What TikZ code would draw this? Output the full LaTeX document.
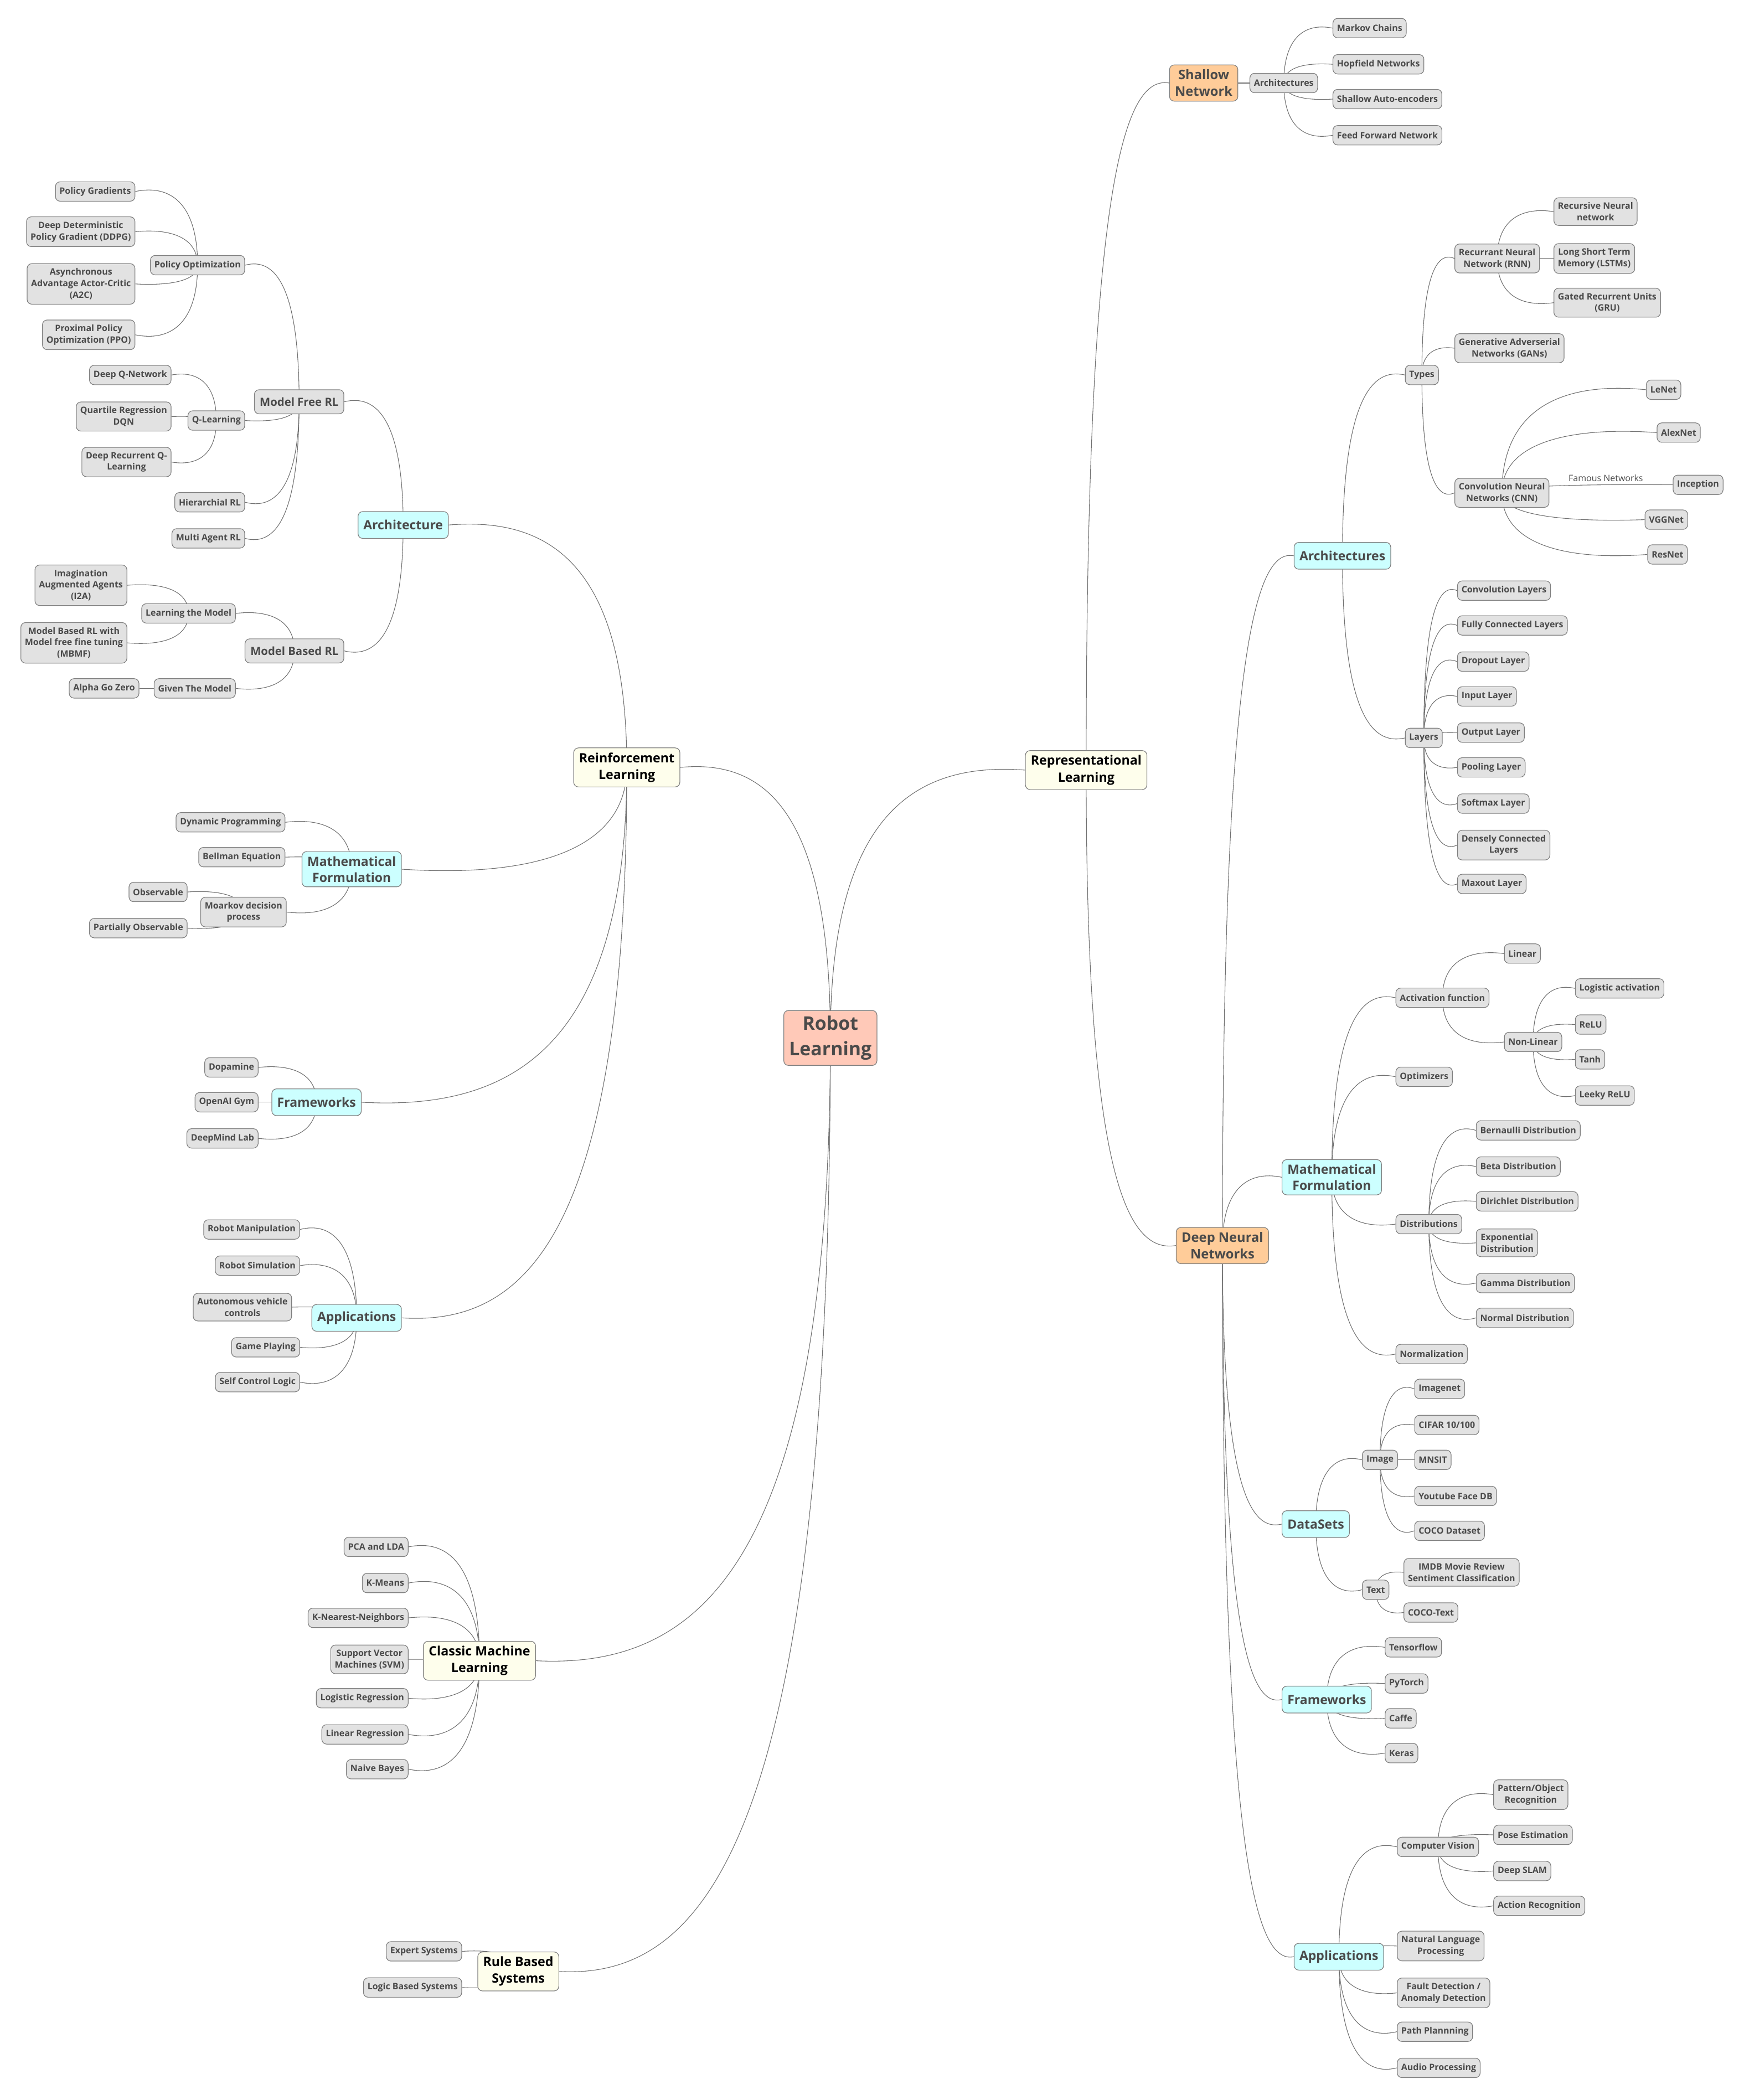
\documentclass[tikz,border=0pt]{standalone}
\usepackage{fontspec}
\setmainfont{Open Sans}
\usetikzlibrary{calc,backgrounds}
\definecolor{grayf}{HTML}{E2E2E2}
\definecolor{bordc}{HTML}{808080}
\definecolor{txtc}{HTML}{4A4A4A}
\definecolor{cyanf}{HTML}{CCFFFF}
\definecolor{yelf}{HTML}{FEFEEC}
\definecolor{oraf}{HTML}{FFCC99}
\definecolor{rootf}{HTML}{FFC9B8}
\definecolor{edgec}{HTML}{707070}
\tikzset{
 base/.style={rounded corners=3.5pt, draw=bordc, line width=0.5pt, align=center, inner xsep=3pt, inner ysep=3.5pt, text=txtc},
 leaf/.style={base, fill=grayf, font=\bfseries\fontsize{6.6}{8.6}\selectfont, minimum height=14.5pt},
 mid/.style={base, fill=grayf, font=\bfseries\fontsize{8.4}{10.5}\selectfont, minimum height=18pt, inner xsep=4pt},
 cyanbox/.style={base, fill=cyanf, font=\bfseries\fontsize{9.5}{12}\selectfont, minimum height=20pt, inner xsep=4pt},
 yelbox/.style={base, fill=yelf, text=black, font=\bfseries\fontsize{9.6}{12.5}\selectfont, minimum height=20pt, inner xsep=4pt},
 orabox/.style={base, fill=oraf, font=\bfseries\fontsize{9.8}{12.5}\selectfont, inner xsep=4pt},
 rootbox/.style={base, fill=rootf, font=\bfseries\fontsize{14}{19}\selectfont, inner xsep=4pt, inner ysep=4pt},
 edge/.style={draw=edgec, line width=0.45pt},
 elabel/.style={font=\fontsize{6.6}{8}\selectfont, text=txtc, inner sep=1pt}
}
\newcommand\lk[2]{\draw[edge] let \p1=(#1.center), \p2=(#2) in (\p1) .. controls (\x1,{\y1+0.85*(\y2-\y1)}) and ({\x1+0.45*(\x2-\x1)},{\y2+sign(\y2-\y1)*min(0.1*abs(\y2-\y1),6pt)}) .. (\p2);}
\newcommand\lkL[2]{\lk{#1}{#2.east}}
\newcommand\lkR[2]{\lk{#1}{#2.west}}
\begin{document}
\begin{tikzpicture}[x=1pt,y=-1pt]
\useasboundingbox (0,0) rectangle (1302,1568);
% root and level 1
\node[rootbox] (root) at (620,775) {Robot\\Learning};
\node[yelbox] (rl) at (468,573) {Reinforcement\\Learning};
\node[yelbox] (repl) at (811,575) {Representational\\Learning};
\node[yelbox] (cml) at (358,1240) {Classic Machine\\Learning};
\node[yelbox] (rbs) at (387,1472) {Rule Based\\Systems};
% shallow network
\node[orabox, anchor=west] (sn) at (873,62) {Shallow\\Network};
\node[leaf, anchor=west] (sna) at (933,62) {Architectures};
\node[leaf, anchor=west] (mc) at (995,21) {Markov Chains};
\node[leaf, anchor=west] (hn) at (995,48) {Hopfield Networks};
\node[leaf, anchor=west] (sae) at (995,74) {Shallow Auto-encoders};
\node[leaf, anchor=west] (ffn) at (995,101) {Feed Forward Network};
% deep neural networks
\node[orabox, anchor=west] (dnn) at (878,930) {Deep Neural\\Networks};
\node[cyanbox, anchor=west] (darch) at (966,415) {Architectures};
\node[cyanbox, anchor=west] (dmf) at (957,879) {Mathematical\\Formulation};
\node[cyanbox, anchor=west] (dds) at (957,1138) {DataSets};
\node[cyanbox, anchor=west] (dfw) at (957,1269) {Frameworks};
\node[cyanbox, anchor=west] (dapp) at (966,1461) {Applications};
% DNN architectures
\node[leaf, anchor=west] (types) at (1049,280) {Types};
\node[leaf, anchor=west] (layers) at (1049,551) {Layers};
\node[leaf, anchor=west] (rnn) at (1086,193) {Recurrant Neural\\Network (RNN)};
\node[leaf, anchor=west] (gan) at (1086,260) {Generative Adverserial\\Networks (GANs)};
\node[leaf, anchor=west] (cnn) at (1086,368) {Convolution Neural\\Networks (CNN)};
\node[leaf, anchor=west] (recnn) at (1160,158) {Recursive Neural\\network};
\node[leaf, anchor=west] (lstm) at (1160,193) {Long Short Term\\Memory (LSTMs)};
\node[leaf, anchor=west] (gru) at (1160,226) {Gated Recurrent Units\\(GRU)};
\node[leaf, anchor=west] (lenet) at (1229,291) {LeNet};
\node[leaf, anchor=west] (alex) at (1237,323) {AlexNet};
\node[leaf, anchor=west] (incep) at (1249,362) {Inception};
\node[leaf, anchor=west] (vgg) at (1228,388) {VGGNet};
\node[leaf, anchor=west] (resn) at (1230,414) {ResNet};
\node[elabel] (famous) at (1199,357) {Famous Networks};
\node[leaf, anchor=west] (l1) at (1088,441) {Convolution Layers};
\node[leaf, anchor=west] (l2) at (1088,467) {Fully Connected Layers};
\node[leaf, anchor=west] (l3) at (1088,494) {Dropout Layer};
\node[leaf, anchor=west] (l4) at (1088,520) {Input Layer};
\node[leaf, anchor=west] (l5) at (1088,547) {Output Layer};
\node[leaf, anchor=west] (l6) at (1088,573) {Pooling Layer};
\node[leaf, anchor=west] (l7) at (1088,600) {Softmax Layer};
\node[leaf, anchor=west] (l8) at (1088,631) {Densely Connected\\Layers};
\node[leaf, anchor=west] (l9) at (1088,660) {Maxout Layer};
% DNN math
\node[leaf, anchor=west] (act) at (1042,745) {Activation function};
\node[leaf, anchor=west] (opt) at (1042,804) {Optimizers};
\node[leaf, anchor=west] (dist) at (1042,914) {Distributions};
\node[leaf, anchor=west] (norm) at (1042,1011) {Normalization};
\node[leaf, anchor=west] (lin) at (1123,712) {Linear};
\node[leaf, anchor=west] (nonlin) at (1123,778) {Non-Linear};
\node[leaf, anchor=west] (logact) at (1176,738) {Logistic activation};
\node[leaf, anchor=west] (relu) at (1176,765) {ReLU};
\node[leaf, anchor=west] (tanh) at (1176,791) {Tanh};
\node[leaf, anchor=west] (lrelu) at (1176,818) {Leeky ReLU};
\node[leaf, anchor=west] (d1) at (1102,844) {Bernaulli Distribution};
\node[leaf, anchor=west] (d2) at (1102,871) {Beta Distribution};
\node[leaf, anchor=west] (d3) at (1102,897) {Dirichlet Distribution};
\node[leaf, anchor=west] (d4) at (1102,928) {Exponential\\Distribution};
\node[leaf, anchor=west] (d5) at (1102,958) {Gamma Distribution};
\node[leaf, anchor=west] (d6) at (1102,984) {Normal Distribution};
% DNN datasets
\node[leaf, anchor=west] (img) at (1017,1090) {Image};
\node[leaf, anchor=west] (txt) at (1017,1187) {Text};
\node[leaf, anchor=west] (i1) at (1056,1037) {Imagenet};
\node[leaf, anchor=west] (i2) at (1056,1064) {CIFAR 10/100};
\node[leaf, anchor=west] (i3) at (1056,1090) {MNSIT};
\node[leaf, anchor=west] (i4) at (1056,1117) {Youtube Face DB};
\node[leaf, anchor=west] (i5) at (1056,1143) {COCO Dataset};
\node[leaf, anchor=west] (t1) at (1048,1174) {IMDB Movie Review\\Sentiment Classification};
\node[leaf, anchor=west] (t2) at (1048,1204) {COCO-Text};
% DNN frameworks
\node[leaf, anchor=west] (f1) at (1034,1230) {Tensorflow};
\node[leaf, anchor=west] (f2) at (1034,1257) {PyTorch};
\node[leaf, anchor=west] (f3) at (1034,1283) {Caffe};
\node[leaf, anchor=west] (f4) at (1034,1309) {Keras};
% DNN applications
\node[leaf, anchor=west] (cv) at (1043,1379) {Computer Vision};
\node[leaf, anchor=west] (nlp) at (1043,1453) {Natural Language\\Processing};
\node[leaf, anchor=west] (fd) at (1043,1488) {Fault Detection /\\Anomaly Detection};
\node[leaf, anchor=west] (ppl) at (1043,1517) {Path Plannning};
\node[leaf, anchor=west] (ap) at (1043,1544) {Audio Processing};
\node[leaf, anchor=west] (cv1) at (1115,1340) {Pattern/Object\\Recognition};
\node[leaf, anchor=west] (cv2) at (1115,1370) {Pose Estimation};
\node[leaf, anchor=west] (cv3) at (1115,1397) {Deep SLAM};
\node[leaf, anchor=west] (cv4) at (1115,1423) {Action Recognition};
% RL
\node[cyanbox, anchor=east] (arch) at (335,392) {Architecture};
\node[cyanbox, anchor=east] (rlmf) at (300,649) {Mathematical\\Formulation};
\node[cyanbox, anchor=east] (rlfw) at (270,823) {Frameworks};
\node[cyanbox, anchor=east] (rlapp) at (300,984) {Applications};
\node[mid, anchor=east] (mfrl) at (257,300) {Model Free RL};
\node[mid, anchor=east] (mbrl) at (257,486) {Model Based RL};
\node[leaf, anchor=east] (po) at (183,198) {Policy Optimization};
\node[leaf, anchor=east] (ql) at (183,314) {Q-Learning};
\node[leaf, anchor=east] (hrl) at (183,375) {Hierarchial RL};
\node[leaf, anchor=east] (marl) at (183,402) {Multi Agent RL};
\node[leaf, anchor=east] (pg) at (101,143) {Policy Gradients};
\node[leaf, anchor=east] (ddpg) at (101,173) {Deep Deterministic\\Policy Gradient (DDPG)};
\node[leaf, anchor=east] (a2c) at (101,212) {Asynchronous\\Advantage Actor-Critic\\(A2C)};
\node[leaf, anchor=east] (ppo) at (101,250) {Proximal Policy\\Optimization (PPO)};
\node[leaf, anchor=east] (dqn) at (128,280) {Deep Q-Network};
\node[leaf, anchor=east] (qr) at (128,311) {Quartile Regression\\DQN};
\node[leaf, anchor=east] (drq) at (128,345) {Deep Recurrent Q-\\Learning};
\node[leaf, anchor=east] (ltm) at (176,458) {Learning the Model};
\node[leaf, anchor=east] (gtm) at (176,514) {Given The Model};
\node[leaf, anchor=east] (i2a) at (95,437) {Imagination\\Augmented Agents\\(I2A)};
\node[leaf, anchor=east] (mbmf) at (95,480) {Model Based RL with\\Model free fine tuning\\(MBMF)};
\node[leaf, anchor=east] (agz) at (104,514) {Alpha Go Zero};
\node[leaf, anchor=east] (dp) at (213,614) {Dynamic Programming};
\node[leaf, anchor=east] (be) at (213,640) {Bellman Equation};
\node[leaf, anchor=east] (mdp) at (214,681) {Moarkov decision\\process};
\node[leaf, anchor=east] (obs) at (140,666) {Observable};
\node[leaf, anchor=east] (pobs) at (140,693) {Partially Observable};
\node[leaf, anchor=east] (dop) at (193,797) {Dopamine};
\node[leaf, anchor=east] (gym) at (193,823) {OpenAI Gym};
\node[leaf, anchor=east] (dml) at (193,850) {DeepMind Lab};
\node[leaf, anchor=east] (rm) at (224,918) {Robot Manipulation};
\node[leaf, anchor=east] (rs) at (224,945) {Robot Simulation};
\node[leaf, anchor=east] (avc) at (218,976) {Autonomous vehicle\\controls};
\node[leaf, anchor=east] (gp) at (224,1006) {Game Playing};
\node[leaf, anchor=east] (scl) at (224,1032) {Self Control Logic};
% classic ML
\node[leaf, anchor=east] (c1) at (305,1155) {PCA and LDA};
\node[leaf, anchor=east] (c2) at (305,1182) {K-Means};
\node[leaf, anchor=east] (c3) at (305,1208) {K-Nearest-Neighbors};
\node[leaf, anchor=east] (c4) at (305,1239) {Support Vector\\Machines (SVM)};
\node[leaf, anchor=east] (c5) at (305,1268) {Logistic Regression};
\node[leaf, anchor=east] (c6) at (305,1295) {Linear Regression};
\node[leaf, anchor=east] (c7) at (305,1321) {Naive Bayes};
% rule based
\node[leaf, anchor=east] (r1) at (345,1457) {Expert Systems};
\node[leaf, anchor=east] (r2) at (345,1484) {Logic Based Systems};
\begin{pgfonlayer}{background}
\fill[white] (0,0) rectangle (1302,1568);
\lkL{root}{rl} \lkR{root}{repl} \lkL{root}{cml} \lkL{root}{rbs}
\lkR{repl}{sn} \lkR{repl}{dnn}
\lkR{sn}{sna}
\foreach \c in {mc,hn,sae,ffn} {\lkR{sna}{\c}}
\foreach \c in {darch,dmf,dds,dfw,dapp} {\lkR{dnn}{\c}}
\lkR{darch}{types} \lkR{darch}{layers}
\foreach \c in {rnn,gan,cnn} {\lkR{types}{\c}}
\foreach \c in {recnn,lstm,gru} {\lkR{rnn}{\c}}
\foreach \c in {lenet,alex,incep,vgg,resn} {\lkR{cnn}{\c}}
\foreach \c in {l1,l2,l3,l4,l5,l6,l7,l8,l9} {\lkR{layers}{\c}}
\foreach \c in {act,opt,dist,norm} {\lkR{dmf}{\c}}
\lkR{act}{lin} \lkR{act}{nonlin}
\foreach \c in {logact,relu,tanh,lrelu} {\lkR{nonlin}{\c}}
\foreach \c in {d1,d2,d3,d4,d5,d6} {\lkR{dist}{\c}}
\lkR{dds}{img} \lkR{dds}{txt}
\foreach \c in {i1,i2,i3,i4,i5} {\lkR{img}{\c}}
\lkR{txt}{t1} \lkR{txt}{t2}
\foreach \c in {f1,f2,f3,f4} {\lkR{dfw}{\c}}
\foreach \c in {cv,nlp,fd,ppl,ap} {\lkR{dapp}{\c}}
\foreach \c in {cv1,cv2,cv3,cv4} {\lkR{cv}{\c}}
\foreach \c in {arch,rlmf,rlfw,rlapp} {\lkL{rl}{\c}}
\lkL{arch}{mfrl} \lkL{arch}{mbrl}
\foreach \c in {po,ql,hrl,marl} {\lkL{mfrl}{\c}}
\foreach \c in {pg,ddpg,a2c,ppo} {\lkL{po}{\c}}
\foreach \c in {dqn,qr,drq} {\lkL{ql}{\c}}
\lkL{mbrl}{ltm} \lkL{mbrl}{gtm}
\lkL{ltm}{i2a} \lkL{ltm}{mbmf} \lkL{gtm}{agz}
\foreach \c in {dp,be,mdp} {\lkL{rlmf}{\c}}
\lkL{mdp}{obs} \lkL{mdp}{pobs}
\foreach \c in {dop,gym,dml} {\lkL{rlfw}{\c}}
\foreach \c in {rm,rs,avc,gp,scl} {\lkL{rlapp}{\c}}
\foreach \c in {c1,c2,c3,c4,c5,c6,c7} {\lkL{cml}{\c}}
\lkL{rbs}{r1} \lkL{rbs}{r2}
\end{pgfonlayer}
\end{tikzpicture}
\end{document}
